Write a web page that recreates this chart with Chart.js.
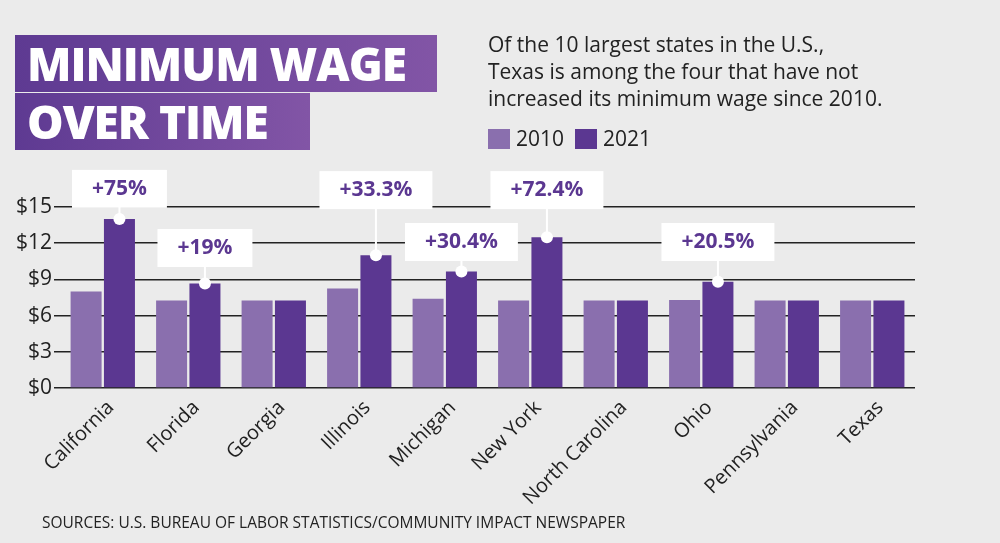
<!DOCTYPE html>
<html>
<head>
<meta charset="utf-8">
<script src="https://cdn.jsdelivr.net/npm/chart.js@4"></script>
<style>
  body { margin: 0; background: #ebebeb; font-family: "Open Sans", sans-serif; }
  #wrap { position: relative; width: 1000px; height: 543px; overflow: hidden; }
  #myChart { position: absolute; left: 0; top: 0; }
  .tbox { position: absolute; left: 15px; color: #fff; font-weight: 800; font-size: 46px;
          line-height: 57px; padding-left: 12px; box-sizing: border-box; letter-spacing: -1px;
          background: linear-gradient(90deg, #5e3a92, #8255a6); }
  #t1 { top: 35px; width: 422px; height: 57px; }
  #t2 { top: 93px; width: 295px; height: 57px; }
  #sub { position: absolute; left: 488px; top: 31px; font-size: 21px; line-height: 27px; color: #222; }
  #legend { position: absolute; left: 488px; top: 124px; font-size: 21px; color: #222; }
  #legend span.sw { display: inline-block; width: 22px; height: 20px; vertical-align: -3px; margin-right: 6px; }
  #src { position: absolute; left: 42px; top: 511px; font-size: 15.5px; color: #222; }
</style>
</head>
<body>
<div id="wrap">
  <canvas id="myChart" width="1000" height="543"></canvas>
  <div class="tbox" id="t1">MINIMUM WAGE</div>
  <div class="tbox" id="t2">OVER TIME</div>
  <div id="sub">Of the 10 largest states in the U.S.,<br>Texas is among the four that have not<br>increased its minimum wage since 2010.</div>
  <div id="legend"><span class="sw" style="background:#8a6fae"></span>2010 &nbsp;<span class="sw" style="background:#5b3791"></span>2021</div>
  <div id="src">SOURCES: U.S. BUREAU OF LABOR STATISTICS/COMMUNITY IMPACT NEWSPAPER</div>
</div>
<script>
//chart data
const states = ['California', 'Florida', 'Georgia', 'Illinois', 'Michigan', 'New York', 'North Carolina', 'Ohio', 'Pennsylvania', 'Texas'];
const wage2010 = [8.00, 7.25, 7.25, 8.25, 7.40, 7.25, 7.25, 7.30, 7.25, 7.25];
const wage2021 = [14.00, 8.65, 7.25, 11.00, 9.65, 12.50, 7.25, 8.80, 7.25, 7.25];
const yTicks = [0, 3, 6, 9, 12, 15];

//percent change callouts: state index, text, height of box (in $)
const calloutIdx = [0, 1, 3, 4, 5, 7];
const calloutText = ['+75%', '+19%', '+33.3%', '+30.4%', '+72.4%', '+20.5%'];
const calloutLevel = [16.5, 11.6, 16.4, 12.1, 16.4, 12.1];

const callouts = {
  id: 'callouts',
  afterDatasetsDraw(chart) {
    const ctx = chart.ctx;
    const meta = chart.getDatasetMeta(1);
    const y = chart.scales.y;
    ctx.save();
    ctx.font = 'bold 21px "Open Sans"';
    calloutIdx.forEach((idx, k) => {
      const bar = meta.data[idx];
      const cy = y.getPixelForValue(calloutLevel[k]);
      const w = ctx.measureText(calloutText[k]).width + 40;
      const h = 38;
      ctx.strokeStyle = '#fff';
      ctx.lineWidth = 2;
      ctx.beginPath();
      ctx.moveTo(bar.x, cy);
      ctx.lineTo(bar.x, bar.y);
      ctx.stroke();
      ctx.fillStyle = '#fff';
      ctx.beginPath();
      ctx.arc(bar.x, bar.y, 6, 0, Math.PI * 2);
      ctx.fill();
      ctx.fillRect(bar.x - w / 2, cy - h / 2, w, h);
      ctx.fillStyle = '#5b3791';
      ctx.textAlign = 'center';
      ctx.textBaseline = 'middle';
      ctx.fillText(calloutText[k], bar.x, cy);
    });
    ctx.restore();
  }
};

const ctx = document.getElementById('myChart').getContext('2d');
const myChart = new Chart(ctx, {
  type: 'bar',
  data: {
    labels: states,
    datasets: [
      { label: '2010', data: wage2010, backgroundColor: '#8a6fae', categoryPercentage: 0.78, barPercentage: 0.93 },
      { label: '2021', data: wage2021, backgroundColor: '#5b3791', categoryPercentage: 0.78, barPercentage: 0.93 }
    ]
  },
  options: {
    responsive: false,
    animation: false,
    layout: { padding: { top: 207, left: 14, right: 85, bottom: 33 } },
    plugins: { legend: { display: false }, tooltip: { enabled: false } },
    scales: {
      x: {
        grid: { display: false },
        border: { display: false },
        ticks: { color: '#222', font: { family: 'Open Sans', size: 20 }, maxRotation: 45, minRotation: 45, padding: 0, labelOffset: 8 }
      },
      y: {
        min: 0, max: 15,
        afterBuildTicks: (axis) => { axis.ticks = yTicks.map(v => ({ value: v })); },
        grid: { color: '#222', lineWidth: 1.5, tickLength: 6 },
        border: { display: false },
        ticks: { color: '#222', font: { family: 'Open Sans', size: 21 }, padding: 2, callback: v => '$' + v }
      }
    }
  },
  plugins: [callouts]
});
</script>
</body>
</html>
